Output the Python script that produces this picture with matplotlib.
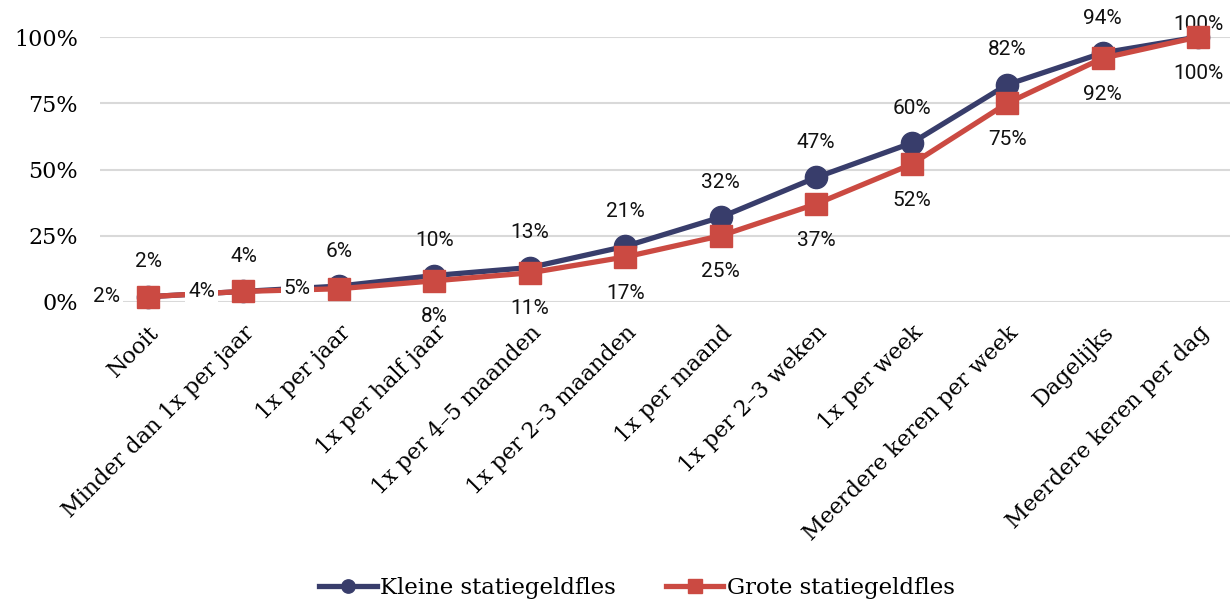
import matplotlib
matplotlib.use('Agg')
import matplotlib.pyplot as plt
from matplotlib.ticker import FuncFormatter

categories = ['Nooit', 'Minder dan 1x per jaar', '1x per jaar', '1x per half jaar',
              '1x per 4–5 maanden', '1x per 2–3 maanden', '1x per maand',
              '1x per 2–3 weken', '1x per week', 'Meerdere keren per week',
              'Dagelijks', 'Meerdere keren per dag']
kleine = [2, 4, 6, 10, 13, 21, 32, 47, 60, 82, 94, 100]
grote = [2, 4, 5, 8, 11, 17, 25, 37, 52, 75, 92, 100]
# where the label of the red series goes
grote_pos = ['left', 'left', 'left'] + ['below'] * 9

navy = '#383d6b'
red = '#cb4a42'
serif = 'DejaVu Serif'
sans = 'Roboto'

fig = plt.figure(figsize=(12.3, 6.03), dpi=100)
ax = fig.add_axes([100 / 1230, 301 / 603, 1130 / 1230, 265 / 603])

x = list(range(len(categories)))
ax.plot(x, kleine, color=navy, lw=3.8, marker='o', ms=16, clip_on=False, zorder=3,
        label='Kleine statiegeldfles')
ax.plot(x, grote, color=red, lw=3.8, marker='s', ms=16, clip_on=False, zorder=4,
        label='Grote statiegeldfles')

for i, v in enumerate(kleine):
    dy = 9 if v == 100 else 25
    ax.annotate(f'{v}%', (i, v), xytext=(0, dy), textcoords='offset points',
                ha='center', va='center', fontsize=15, family=sans, color='#111111',
                zorder=2)
for i, v in enumerate(grote):
    if grote_pos[i] == 'left':
        ax.annotate(f'{v}%', (i, v), xytext=(-30, 0), textcoords='offset points',
                    ha='center', va='center', fontsize=15, family=sans, color='#111111',
                    zorder=6, bbox=dict(boxstyle='square,pad=0.15', fc='white', ec='none'))
    else:
        ax.annotate(f'{v}%', (i, v), xytext=(0, -26), textcoords='offset points',
                    ha='center', va='center', fontsize=15, family=sans, color='#111111')

ax.set_xlim(-0.503, 11.335)
ax.set_ylim(0, 100)
ax.set_yticks([0, 25, 50, 75, 100])
ax.yaxis.set_major_formatter(FuncFormatter(lambda v, p: f'{v:.0f}%'))
ax.grid(axis='y', color='#d9d9d9', lw=1.5)
ax.set_axisbelow(True)
for s in ax.spines.values():
    s.set_visible(False)
ax.tick_params(length=0)
ax.tick_params(axis='y', pad=16, labelsize=16)
for t in ax.get_yticklabels():
    t.set_family(serif)

ax.set_xticks(x)
ax.set_xticklabels(categories, rotation=45, ha='right', rotation_mode='anchor',
                   family=serif, fontsize=16)
ax.tick_params(axis='x', pad=14)

leg = fig.legend(loc='center', bbox_to_anchor=(637 / 1230, 1 - 588 / 603), ncol=2,
                 frameon=False, prop={'family': serif, 'size': 16.5}, handlelength=2.5,
                 handletextpad=0.15, columnspacing=2.2, markerscale=0.6)

fig.savefig('out.png', dpi=100)
